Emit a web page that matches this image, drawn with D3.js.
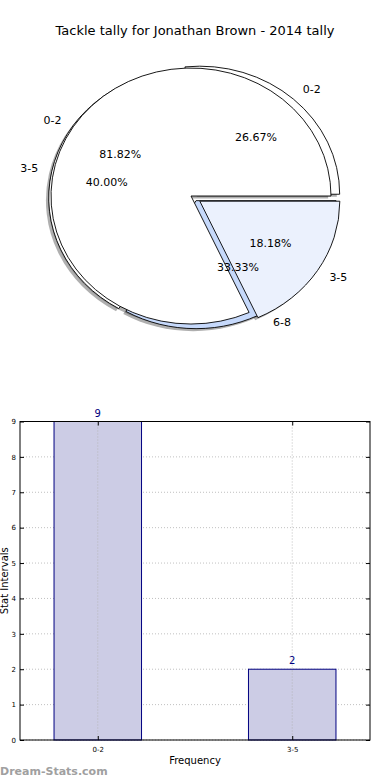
<!DOCTYPE html>
<html>
<head>
<meta charset="utf-8">
<script src="https://cdn.jsdelivr.net/npm/d3@7"></script>
<style>
  body { margin: 0; background: #fff; }
  svg { display: block; font-family: "DejaVu Sans", sans-serif; }
</style>
</head>
<body>
<div id="chart"></div>
<script>
// pie data (two pies drawn on the same axes)
const pieLabelsA = ['0-2', '3-5'];
const pieValsA = [9, 2];
const pieExplodeA = [0, 0.075];
const pieColorsA = ['#ffffff', '#ebf1fd'];

const pieLabelsB = ['0-2', '3-5', '6-8'];
const pieValsB = [4, 6, 5];
const pieExplodeB = [0.05, 0.045, 0.015];
const pieColorsB = ['#ffffff', '#ffffff', '#c6d9fb'];

// bar data
const barCats = ['0-2', '3-5'];
const barVals = [9, 2];
const yTicks = [0, 1, 2, 3, 4, 5, 6, 7, 8, 9];

const W = 390, H = 780;
const svg = d3.select('#chart').append('svg')
  .attr('width', W).attr('height', H);

// title
svg.append('text')
  .attr('x', 195).attr('y', 35)
  .attr('text-anchor', 'middle')
  .style('font-size', '13px')
  .text('Tackle tally for Jonathan Brown - 2014 tally');

// ---- pie ----
const rx = 140, ry = 128;
const arcGen = d3.arc().innerRadius(0).outerRadius(1);
const pieGen = d3.pie().sort(null)
  .startAngle(Math.PI / 2).endAngle(Math.PI / 2 - 2 * Math.PI);

const pctFmt = d3.format('.2f');

function buildPie(labels, vals, explode, colors, cx, cy) {
  const total = d3.sum(vals);
  return pieGen(vals).map((d, i) => {
    const mid = (d.startAngle + d.endAngle) / 2;
    const ux = Math.sin(mid), uy = -Math.cos(mid);
    return {
      arc: d, label: labels[i], color: colors[i],
      ux, uy, pct: pctFmt(vals[i] / total * 100) + '%',
      ox: cx + explode[i] * ux * rx,
      oy: cy + explode[i] * uy * ry
    };
  });
}
const wedgesA = buildPie(pieLabelsA, pieValsA, pieExplodeA, pieColorsA, 191, 196);
const wedgesB = buildPie(pieLabelsB, pieValsB, pieExplodeB, pieColorsB, 195, 199);
const allWedges = wedgesB.concat(wedgesA); // B drawn first, A on top

const pieG = svg.append('g');

// shadows
pieG.selectAll('path.shadow')
  .data(allWedges)
  .join('path')
  .attr('class', 'shadow')
  .attr('d', w => arcGen(w.arc))
  .attr('transform', w => `translate(${w.ox - 0.02 * rx},${w.oy + 0.02 * ry}) scale(${rx},${ry})`)
  .attr('fill', '#4d4d4d')
  .attr('fill-opacity', 0.45);

// wedges
pieG.selectAll('path.wedge')
  .data(allWedges)
  .join('path')
  .attr('class', 'wedge')
  .attr('d', w => arcGen(w.arc))
  .attr('transform', w => `translate(${w.ox},${w.oy}) scale(${rx},${ry})`)
  .attr('fill', w => w.color)
  .attr('stroke', '#000')
  .attr('stroke-width', 0.9)
  .attr('vector-effect', 'non-scaling-stroke');

// labels
pieG.selectAll('text.lbl')
  .data(allWedges)
  .join('text')
  .attr('class', 'lbl')
  .attr('x', w => w.ox + 1.1 * w.ux * rx)
  .attr('y', w => w.oy + 1.1 * w.uy * ry)
  .attr('dy', '0.35em')
  .attr('text-anchor', w => w.ux > 0 ? 'start' : 'end')
  .style('font-size', '11px')
  .text(w => w.label);

pieG.selectAll('text.pct')
  .data(allWedges)
  .join('text')
  .attr('class', 'pct')
  .attr('x', w => w.ox + 0.6 * w.ux * rx)
  .attr('y', w => w.oy + 0.6 * w.uy * ry)
  .attr('dy', '0.35em')
  .attr('text-anchor', 'middle')
  .style('font-size', '11px')
  .text(w => w.pct);

// ---- bar chart ----
const bm = { left: 20, right: 370, top: 421.5, bottom: 740 };
const x = d3.scaleLinear().domain([-0.4, 1.4]).range([bm.left, bm.right]);
const y = d3.scaleLinear().domain([0, 9]).range([bm.bottom, bm.top]);
const barW = 0.45;

const barG = svg.append('g');

// grid
barG.selectAll('line.hgrid')
  .data(yTicks)
  .join('line')
  .attr('x1', bm.left).attr('x2', bm.right)
  .attr('y1', d => y(d)).attr('y2', d => y(d))
  .attr('stroke', '#b0b0b0')
  .attr('stroke-width', 0.8)
  .attr('stroke-dasharray', '1,2');

// bars
barG.selectAll('rect.bar')
  .data(barVals)
  .join('rect')
  .attr('x', (d, i) => x(i - barW / 2))
  .attr('width', x(barW) - x(0))
  .attr('y', d => y(d))
  .attr('height', d => y(0) - y(d))
  .attr('fill', '#ccccE5')
  .attr('stroke', '#000080')
  .attr('stroke-width', 1);

barG.selectAll('line.vgrid')
  .data(barCats)
  .join('line')
  .attr('x1', (d, i) => x(i)).attr('x2', (d, i) => x(i))
  .attr('y1', bm.top).attr('y2', bm.bottom)
  .attr('stroke', '#b0b0b0')
  .attr('stroke-width', 0.8)
  .attr('stroke-dasharray', '1,2');

// value labels
barG.selectAll('text.val')
  .data(barVals)
  .join('text')
  .attr('x', (d, i) => x(i))
  .attr('y', d => y(d) - 5)
  .attr('text-anchor', 'middle')
  .attr('fill', '#000080')
  .style('font-size', '10px')
  .text(d => d);

// frame
barG.append('rect')
  .attr('x', bm.left).attr('y', bm.top)
  .attr('width', bm.right - bm.left).attr('height', bm.bottom - bm.top)
  .attr('fill', 'none').attr('stroke', '#000').attr('stroke-width', 1);

// y axis
const yAxis = d3.axisLeft(y).tickValues(yTicks).tickSizeInner(-4).tickSizeOuter(0).tickPadding(4);
const yAx = barG.append('g').attr('transform', `translate(${bm.left},0)`).call(yAxis);
yAx.select('.domain').remove();
yAx.selectAll('text').style('font-size', '7px').style('font-family', '"DejaVu Sans", sans-serif');
const yAxR = barG.append('g').attr('transform', `translate(${bm.right},0)`)
  .call(d3.axisRight(y).tickValues(yTicks).tickSizeInner(-4).tickSizeOuter(0).tickFormat(''));
yAxR.select('.domain').remove();

// x axis
const xAxis = d3.axisBottom(x).tickValues([0, 1]).tickFormat((d, i) => barCats[i])
  .tickSizeInner(-4).tickSizeOuter(0).tickPadding(7);
const xAx = barG.append('g').attr('transform', `translate(0,${bm.bottom})`).call(xAxis);
xAx.select('.domain').remove();
xAx.selectAll('text').style('font-size', '7px').style('font-family', '"DejaVu Sans", sans-serif');
const xAxT = barG.append('g').attr('transform', `translate(0,${bm.top})`)
  .call(d3.axisTop(x).tickValues([0, 1]).tickSizeInner(-4).tickSizeOuter(0).tickFormat(''));
xAxT.select('.domain').remove();

// axis titles
svg.append('text')
  .attr('x', 195).attr('y', 764)
  .attr('text-anchor', 'middle')
  .style('font-size', '10px')
  .text('Frequency');

svg.append('text')
  .attr('transform', `translate(8,${(bm.top + bm.bottom) / 2}) rotate(-90)`)
  .attr('text-anchor', 'middle')
  .style('font-size', '10px')
  .text('Stat Intervals');

// watermark
svg.append('text')
  .attr('x', 0).attr('y', 775)
  .attr('fill', '#a0a0a0')
  .style('font-size', '11px')
  .style('font-weight', 'bold')
  .text('Dream-Stats.com');
</script>
</body>
</html>
